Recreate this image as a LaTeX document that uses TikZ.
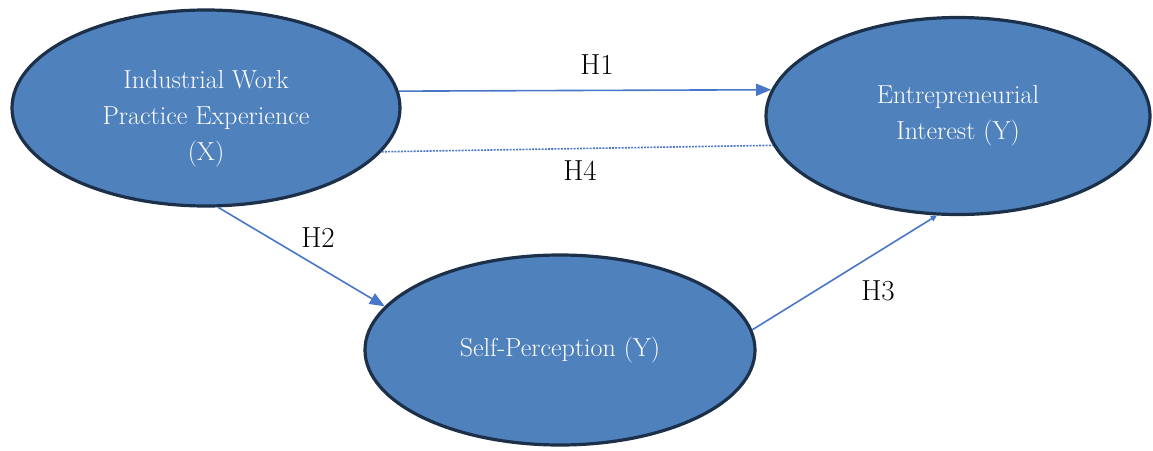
\documentclass[tikz,border=0pt]{standalone}
\usepackage{fontspec}
\usetikzlibrary{shapes.geometric,arrows.meta}
\definecolor{nodefill}{RGB}{79,129,189}
\definecolor{nodeedge}{RGB}{28,48,74}
\definecolor{linkblue}{RGB}{72,118,200}
\begin{document}
\begin{tikzpicture}[x=1pt,y=-1pt,
  var/.style={ellipse,draw=nodeedge,line width=3.2pt,fill=nodefill,inner sep=0pt,
    text=white,align=center,font=\fontsize{26}{36}\selectfont},
  link/.style={draw=linkblue,line width=1.6pt,-{Triangle[length=15pt,width=12pt]}},
  dotlink/.style={draw=linkblue,line width=1.6pt,dash pattern=on 2pt off 1.2pt},
  hlab/.style={font=\fontsize{29}{30}\selectfont,text=black}]
\useasboundingbox (0,0) rectangle (1153,450);
\node[var,minimum width=388pt,minimum height=196pt] (X) at (206,108)
  {\rule{0pt}{40pt}Industrial Work\\Practice Experience\\(X)};
\node[var,minimum width=384pt,minimum height=197pt] (Y) at (958,116)
  {Entrepreneurial\\Interest (Y)\\[-28pt]};
\node[var,minimum width=390pt,minimum height=190pt] (S) at (560,350)
  {Self-Perception (Y)\\[-30pt]};
\draw[link] (X.5) -- (Y.172);
\draw[dotlink] (X.-14) -- (Y.189);
\draw[link] (X.-83) -- (S.166);
\draw[link,-{Triangle[length=6pt,width=6pt]}] (S.6) -- (Y.258);
\node[hlab] (h1) at (597,65) {H1};
\node[hlab] (h4) at (580,171) {H4};
\node[hlab] (h2) at (318,238) {H2};
\node[hlab] (h3) at (878,291) {H3};
\end{tikzpicture}
\end{document}
